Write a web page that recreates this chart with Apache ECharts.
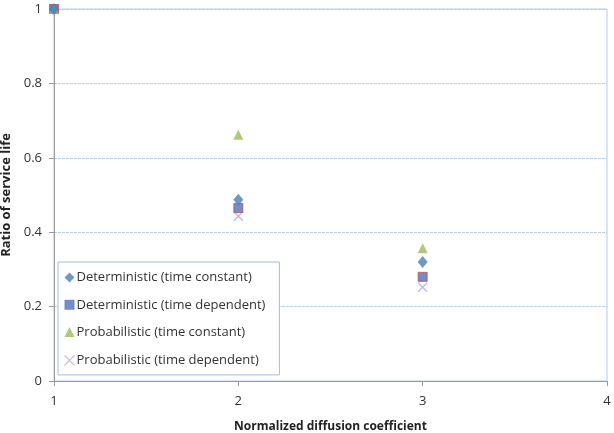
<!DOCTYPE html>
<html>
<head>
<meta charset="utf-8">
<script src="https://cdn.jsdelivr.net/npm/echarts@6/dist/echarts.min.js"></script>
<style>
  html, body { margin: 0; padding: 0; background: #fff; }
  #chart { width: 614px; height: 433px; }
</style>
</head>
<body>
<div id="chart"></div>
<script>
// normalized diffusion coefficient vs ratio of service life
const xValues = [1, 2, 3]
const detConst = [1, 0.487, 0.32]
const detDep = [1, 0.465, 0.28]
const probConst = [1, 0.662, 0.357]
const probDep = [1, 0.443, 0.252]
const seriesNames = [
  'Deterministic (time constant)',
  'Deterministic (time dependent)',
  'Probabilistic (time constant)',
  'Probabilistic (time dependent)',
]

const font = 'Open Sans, Liberation Sans, sans-serif'
const xPath = 'path://M0,0L10,10M10,0L0,10'
const xStyle = { color: 'none', borderColor: '#b4a2d0', borderWidth: 1.2 }
const pairs = (ys) => xValues.map((x, i) => [x, ys[i]])

const chart = echarts.init(document.getElementById('chart'))
chart.setOption({
  animation: false,
  grid: {
    left: 54, right: 7, top: 9, bottom: 52,
    outerBoundsMode: 'none', containLabel: false,
    show: true, borderColor: '#b9cde5', borderWidth: 1,
  },
  legend: {
    orient: 'vertical',
    left: 58, top: 262,
    padding: [9, 14, 7, 4],
    itemGap: 14.3,
    itemWidth: 10, itemHeight: 10,
    borderColor: '#a7bcd8', borderWidth: 1,
    backgroundColor: '#fff',
    textStyle: { fontFamily: font, fontSize: 13, color: '#333', padding: [0, 0, 0, -3] },
    data: [
      { name: seriesNames[0] },
      { name: seriesNames[1], itemStyle: { borderWidth: 0, color: '#4f6fc0' } },
      { name: seriesNames[2] },
      { name: seriesNames[3], icon: xPath, itemStyle: xStyle },
    ],
  },
  xAxis: {
    type: 'value', min: 1, max: 4, interval: 1,
    name: 'Normalized diffusion coefficient',
    nameLocation: 'middle', nameGap: 40,
    nameTextStyle: { fontFamily: font, fontSize: 12, fontWeight: 'bold', color: '#222' },
    axisLine: { show: true, lineStyle: { color: '#9a9a9a' } },
    axisTick: { show: true, length: 5, lineStyle: { color: '#9a9a9a' } },
    axisLabel: { fontFamily: font, fontSize: 13, color: '#333', margin: 14 },
    splitLine: { show: false },
  },
  yAxis: {
    type: 'value', min: 0, max: 1, interval: 0.2,
    name: 'Ratio of service life',
    nameLocation: 'middle', nameGap: 35, nameRotate: 90,
    nameTextStyle: { fontFamily: font, fontSize: 13, fontWeight: 'bold', color: '#222' },
    axisLine: { show: true, lineStyle: { color: '#9a9a9a' } },
    axisTick: { show: true, length: 5, lineStyle: { color: '#9a9a9a' } },
    axisLabel: { fontFamily: font, fontSize: 13, color: '#333', margin: 12 },
    splitLine: { show: true, lineStyle: { color: '#b9cde5', type: [3, 1] } },
  },
  series: [
    {
      name: seriesNames[0], type: 'scatter', symbol: 'diamond', symbolSize: [10, 12],
      itemStyle: { color: '#4a7ebb' }, data: pairs(detConst), z: 3,
    },
    {
      name: seriesNames[1], type: 'scatter', symbol: 'rect', symbolSize: 9,
      itemStyle: { color: '#4f6fc0', borderColor: '#c0504d', borderWidth: 1 },
      data: pairs(detDep), z: 2,
    },
    {
      name: seriesNames[2], type: 'scatter', symbol: 'triangle', symbolSize: 10,
      itemStyle: { color: '#9bbb59' }, data: pairs(probConst), z: 2,
    },
    {
      name: seriesNames[3], type: 'scatter', symbol: xPath, symbolSize: 9,
      itemStyle: xStyle, data: pairs(probDep), z: 1,
    },
  ],
})
</script>
</body>
</html>
